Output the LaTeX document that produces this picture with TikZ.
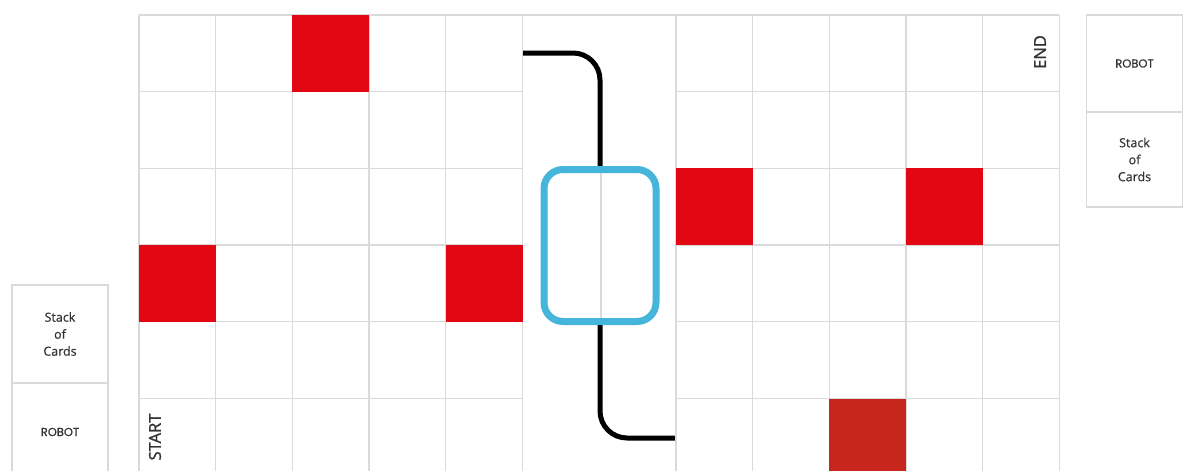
\documentclass[tikz,border=0pt]{standalone}
\usepackage{fontspec}
\usetikzlibrary{backgrounds}
\setmainfont{Open Sans}
\newfontfamily\robotfont[FakeBold=0.6]{Poppins}
\newfontfamily\markfont[FakeBold=1.2]{Open Sans}
\newfontfamily\stackfont[FakeBold=0.5]{Open Sans}
\definecolor{gridgray}{HTML}{DADADA}
\definecolor{boardred}{HTML}{E30613}
\definecolor{darkred}{HTML}{C6261C}
\definecolor{gateblue}{HTML}{45B5DA}
\definecolor{textgray}{HTML}{333333}
\begin{document}
\begin{tikzpicture}[x=1pt,y=-1pt,
  gridline/.style={draw=gridgray,line width=1.3pt},
  redcell/.style={fill=boardred},
  darkcell/.style={fill=darkred},
  cardbox/.style={draw=gridgray,line width=1.3pt,minimum width=96pt,inner sep=0pt,align=center,text=textgray},
  stacktext/.style={font=\stackfont\fontsize{12.5}{17}\selectfont},
  robottext/.style={font=\robotfont\fontsize{11.5}{14}\selectfont},
  track/.style={draw=black,line width=5pt,rounded corners=27pt},
  gatebox/.style={draw=gateblue,line width=7pt,rounded corners=19pt,minimum width=112pt,minimum height=152pt,inner sep=0pt},
  marktext/.style={rotate=90,text=textgray,font=\markfont\fontsize{16.5}{18}\selectfont}]
\useasboundingbox (0,0) rectangle (1183,471);
\begin{scope}
\clip (0,0) rectangle (1183,471);
\def\s{76.7}
% vertical grid lines
\foreach \k in {0,...,5,7,8,...,12}
  \draw[gridline] ({139+\k*\s},15) -- ({139+\k*\s},490);
% top line
\draw[gridline] (139,15) -- ({139+12*\s},15);
% horizontal lines (left and right halves)
\foreach \j in {1,...,6}{
  \draw[gridline] (139,{15+\j*\s}) -- ({139+5*\s},{15+\j*\s});
  \draw[gridline] ({139+7*\s},{15+\j*\s}) -- ({139+12*\s},{15+\j*\s});
}
% red cells
\fill[redcell] ({139+2*\s},15) rectangle ({139+3*\s},{15+\s});
\fill[redcell] (139,{15+3*\s}) rectangle ({139+\s},{15+4*\s});
\fill[redcell] ({139+4*\s},{15+3*\s}) rectangle ({139+5*\s},{15+4*\s});
\fill[redcell] ({139+7*\s},{15+2*\s}) rectangle ({139+8*\s},{15+3*\s});
\fill[redcell] ({139+10*\s},{15+2*\s}) rectangle ({139+11*\s},{15+3*\s});
\fill[darkcell] ({139+9*\s},{15+5*\s}) rectangle ({139+10*\s},{15+6*\s});
% gate and track
\draw[gridline] (601,{15+2*\s}) -- (601,{15+4*\s});
\node[gatebox] (gate) at (600,245.5) {};
\coordinate (tstart) at (523,53);
\coordinate (tend) at (676,438);
\begin{scope}[on background layer]
\fill[white] (0,0) rectangle (1183,471);
\draw[track] (tstart) -- (600,53) -- (gate.north);
\draw[track] (gate.south) -- (600,438) -- (tend);
\end{scope}
% start / end
\node[marktext] (start) at (155,437) {START};
\node[marktext] (end) at (1040,52) {END};
% cards left
\node[cardbox,minimum height=98pt,stacktext] (lstack) at (60,334) {Stack\\of\\Cards};
\node[cardbox,minimum height=98pt,robottext] (lrobot) at (60,432) {ROBOT};
% cards right
\node[cardbox,minimum height=97pt,robottext] (rrobot) at (1134.5,63.5) {ROBOT};
\node[cardbox,minimum height=95pt,stacktext] (rstack) at (1134.5,159.5) {Stack\\of\\Cards};
\end{scope}
\end{tikzpicture}
\end{document}
